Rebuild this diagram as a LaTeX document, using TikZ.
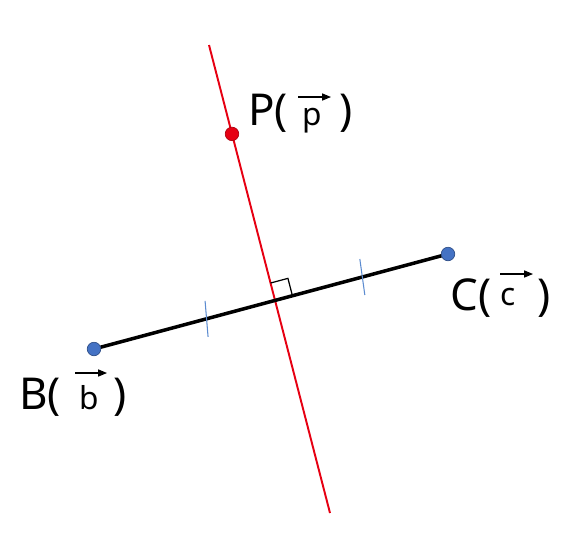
\documentclass[tikz,border=0pt]{standalone}
\usepackage{fontspec}
\setmainfont{Noto Sans}
\usetikzlibrary{arrows.meta,calc}
\definecolor{ptred}{RGB}{230,0,18}
\definecolor{ptblue}{RGB}{68,114,196}
\definecolor{tickblue}{RGB}{91,139,208}

\begin{document}
\begin{tikzpicture}[x=0.02cm,y=-0.02cm,
    lbl/.style={inner sep=0pt,anchor=base west,font=\fontsize{25}{30}\selectfont},
    vlbl/.style={inner sep=0pt,anchor=base west,font=\fontsize{18}{21}\selectfont},
    vec/.style={-{Triangle[length=5pt,width=4pt]},line width=0.6pt},
    bluedot/.style={circle,fill=ptblue,draw=ptblue!70!black,line width=0.4pt,minimum size=0.27cm,inner sep=0pt},
    reddot/.style={bluedot,fill=ptred,draw=ptred!75!black}]
  \useasboundingbox (0,0) rectangle (578,555);
  \coordinate (B) at (94,349);
  \coordinate (C) at (448,254);
  \coordinate (T) at (209,45);
  \coordinate (U) at (330,513);
  \coordinate (P) at ($(T)!0.19!(U)$);
  \coordinate (F) at (intersection of B--C and T--U);
  \draw[ptred,line width=1.1pt] (T) -- (U);
  \draw[line width=2pt] (B) -- (C);
  % right angle mark
  \coordinate (F1) at ($(F)!0.36cm!(C)$);
  \coordinate (F2) at ($(F)!0.36cm!(P)$);
  \draw[line width=0.7pt] (F1) -- ($(F1)+(F2)-(F)$) -- (F2);
  % tick marks
  \draw[tickblue,line width=0.6pt] ($(B)!0.318!(C)$) ++(-1.5,-18) -- ++(3,36);
  \draw[tickblue,line width=0.6pt] ($(B)!0.758!(C)$) ++(-2.5,-18) -- ++(5,36);
  \node at (B) [bluedot] (Bd) {};
  \node at (C) [bluedot] (Cd) {};
  \node at (P) [reddot] (Pd) {};
  % labels
  \node at (248,125) [lbl] (Pt) {P(};
  \node at (302,125) [vlbl] (pv) {p};
  \node at (339,125) [lbl] (Pc) {)};
  \draw[vec] ([shift={(-4,-28)}]pv.base west) -- ++(33,0);
  \node at (450,310) [lbl] (Ct) {C(};
  \node at (500,305) [vlbl] (cv) {c};
  \node at (537,310) [lbl] (Cc) {)};
  \draw[vec] ([shift={(0,-31)}]cv.base west) -- ++(33,0);
  \node at (19,409) [lbl] (Bt) {B(};
  \node at (79,409) [vlbl] (bv) {b};
  \node at (113,409) [lbl] (Bc) {)};
  \draw[vec] ([shift={(-4,-36)}]bv.base west) -- ++(32,0);
\end{tikzpicture}
\end{document}
